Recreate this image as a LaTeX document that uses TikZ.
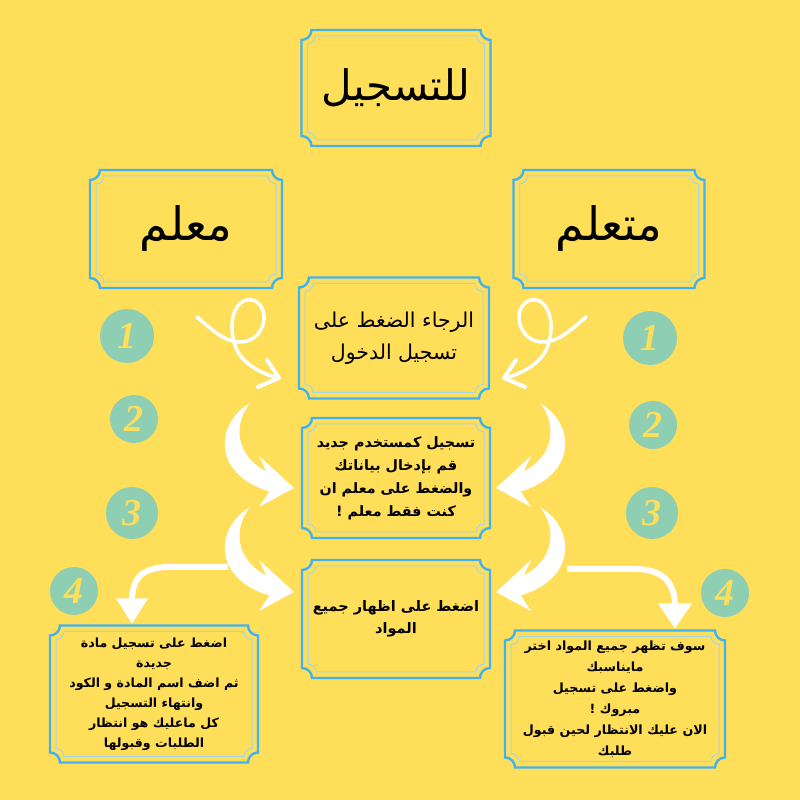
\documentclass[tikz,border=0pt]{standalone}
\usepackage{fontspec}
\newfontfamily\arabicfont[Script=Arabic]{DejaVu Sans}
\newfontfamily\numfont{Liberation Serif}
\TeXXeTstate=1
\definecolor{bgyellow}{HTML}{FFDE59}
\definecolor{frameblue}{HTML}{3FB2F2}
\definecolor{framelight}{HTML}{A4D6EA}
\definecolor{dotteal}{HTML}{8ECFB3}
\tikzset{
  box/.style={align=center,inner sep=0pt,outer sep=0pt},
  numdot/.style={circle,fill=dotteal,inner sep=0pt,text=bgyellow,font=\numfont\fontsize{38}{38}\selectfont\bfseries\itshape},
  loopline/.style={draw=white,line width=3.5pt,line cap=round,line join=round},
  flow/.style={draw=white,line width=6pt},
  frameout/.style={draw=frameblue,line width=2.4pt},
  framein/.style={draw=framelight,line width=1pt}
}
\newcommand{\cutpath}[4]{%
  \draw[#1] ([shift={(#3,-#3-#4)}]#2.north west) arc[start angle=-90,end angle=0,radius=#4]
    -- ([shift={(-#3-#4,-#3)}]#2.north east) arc[start angle=180,end angle=270,radius=#4]
    -- ([shift={(-#3,#3+#4)}]#2.south east) arc[start angle=90,end angle=180,radius=#4]
    -- ([shift={(#3+#4,#3)}]#2.south west) arc[start angle=0,end angle=90,radius=#4] -- cycle;}
\newcommand{\cutbox}[1]{\cutpath{frameout}{#1}{0pt}{10pt}\cutpath{framein}{#1}{6pt}{8pt}}
\newcommand{\looparrow}{%
  \draw[loopline] (197,483) .. controls (212,470) and (225,458) .. (240,458)
    .. controls (264,458) and (272,490) .. (255,499)
    .. controls (238,506) and (226,482) .. (235,455)
    .. controls (240,438) and (258,428) .. (277,422);
  \draw[loopline,line width=4pt] (267,440) -- (279,422) -- (258,413);}
\newcommand{\bigbrush}{%
  \fill[white] (250,397) .. controls (213,375) and (213,322) .. (275,307) -- (278,324)
    .. controls (238,336) and (230,372) .. (250,397) -- cycle;
  \fill[white] (259,344) -- (294,312) -- (259,293) -- (273,314) -- cycle;}
\begin{document}
\begin{tikzpicture}[x=1pt,y=1pt]
\fill[bgyellow] (0,0) rectangle (800,800);
\useasboundingbox (0,0) rectangle (800,800);

\node[box,minimum width=189pt,minimum height=116pt,font=\arabicfont\fontsize{42}{50}\selectfont] (title) at (396,712) {\beginR للتسجيل\endR};
\node[box,minimum width=192pt,minimum height=118pt,font=\arabicfont\fontsize{46}{54}\selectfont] (teacher) at (186,571) {\beginR معلم\endR};
\node[box,minimum width=191pt,minimum height=118pt,font=\arabicfont\fontsize{46}{54}\selectfont] (student) at (609,571) {\beginR متعلم\endR};
\node[box,minimum width=190pt,minimum height=121pt,font=\arabicfont\fontsize{20.5}{32}\selectfont] (login) at (394,462) {\beginR الرجاء الضغط على\endR\\\beginR تسجيل الدخول\endR};
\node[box,minimum width=188pt,minimum height=120pt,font=\arabicfont\bfseries\fontsize{14.3}{23}\selectfont] (signup) at (396,322) {\beginR تسجيل كمستخدم جديد\endR\\\beginR قم بإدخال بياناتك\endR\\\beginR والضغط على معلم ان\endR\\\beginR كنت فقط معلم !\endR};
\node[box,minimum width=188pt,minimum height=118pt,font=\arabicfont\bfseries\fontsize{14.5}{22}\selectfont] (show) at (396,181) {\beginR اضغط على اظهار جميع\endR\\\beginR المواد\endR};
\node[box,minimum width=208pt,minimum height=137pt,font=\arabicfont\bfseries\fontsize{12.6}{20}\selectfont] (tbox) at (154,106) {\beginR اضغط على تسجيل مادة\endR\\\beginR جديدة\endR\\\beginR ثم اضف اسم المادة و الكود\endR\\\beginR وانتهاء التسجيل\endR\\\beginR كل ماعليك هو انتظار\endR\\\beginR الطلبات وقبولها\endR};
\node[box,minimum width=220pt,minimum height=137pt,font=\arabicfont\bfseries\fontsize{12.7}{21}\selectfont] (sbox) at (615,101) {\beginR سوف تظهر جميع المواد اختر\endR\\\beginR مايناسبك\endR\\\beginR واضغط على تسجيل\endR\\\beginR مبروك !\endR\\\beginR الان عليك الانتظار لحين قبول\endR\\\beginR طلبك\endR};
\foreach \b in {title,teacher,student,login,signup,show,tbox,sbox} {\cutbox{\b}}

\node[numdot,minimum size=54pt] (l1) at (127,464) {1};
\node[numdot,minimum size=48pt] (l2) at (134,381) {2};
\node[numdot,minimum size=52pt] (l3) at (132,287) {3};
\node[numdot,minimum size=48pt] (l4) at (74,209) {4};
\node[numdot,minimum size=54pt] (r1) at (650,462) {1};
\node[numdot,minimum size=48pt] (r2) at (653,375) {2};
\node[numdot,minimum size=52pt] (r3) at (652,287) {3};
\node[numdot,minimum size=48pt] (r4) at (725,207) {4};

\looparrow
\begin{scope}[xshift=783pt,xscale=-1]
\looparrow
\end{scope}
\bigbrush
\begin{scope}[yshift=-104pt]
\bigbrush
\end{scope}
\begin{scope}[xshift=790pt,xscale=-1]
\bigbrush
\begin{scope}[yshift=-104pt]
\bigbrush
\end{scope}
\end{scope}

\coordinate (s4L) at (228,233);
\coordinate (tipL) at ([xshift=-22pt,yshift=2pt]tbox.north);
\draw[flow] (s4L) -- (170,233) .. controls (140,233) and (132,220) .. ([yshift=22pt]tipL);
\fill[white] ([xshift=-16pt,yshift=25pt]tipL) -- ([xshift=16pt,yshift=25pt]tipL) -- (tipL) -- cycle;
\coordinate (s4R) at (567,231);
\coordinate (tipR) at ([xshift=60pt,yshift=2pt]sbox.north);
\draw[flow] (s4R) -- (635,231) .. controls (665,231) and (675,215) .. ([yshift=22pt]tipR);
\fill[white] ([xshift=-17pt,yshift=25pt]tipR) -- ([xshift=17pt,yshift=25pt]tipR) -- (tipR) -- cycle;
\end{tikzpicture}
\end{document}
